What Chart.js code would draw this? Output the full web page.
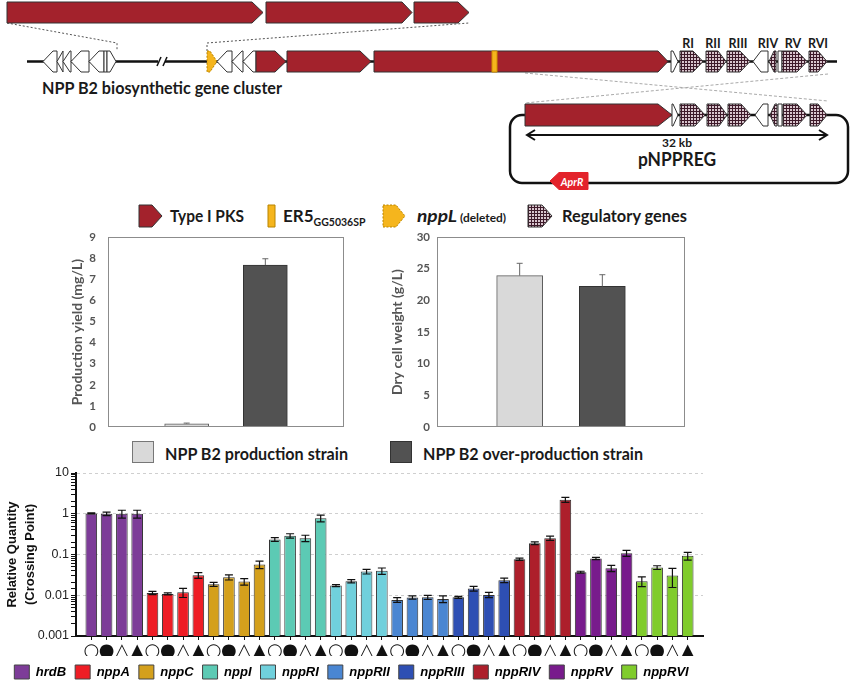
<!DOCTYPE html>
<html><head><meta charset="utf-8">
<script src="https://cdn.jsdelivr.net/npm/chart.js@4.4.0/dist/chart.umd.min.js"></script>
<style>
html,body{margin:0;padding:0;background:#fff;width:850px;height:684px;overflow:hidden;}
#wrap{position:relative;width:850px;height:684px;}
canvas{position:absolute;}
#diag{position:absolute;left:0;top:0;}
</style></head><body><div id="wrap">
<svg id="diag" width="850" height="684" xmlns="http://www.w3.org/2000/svg"></svg>
<canvas id="c1" width="295" height="206" style="left:55px;top:228px"></canvas>
<canvas id="c2" width="315" height="206" style="left:375px;top:228px"></canvas>
<canvas id="c3" width="713" height="226" style="left:0px;top:463px"></canvas>
</div>
<script>
// ---------------- DATA ----------------
const strains = ['NPP B2 production strain', 'NPP B2 over-production strain'];
const yieldValues = [0.16, 7.67];
const yieldErrors = [0.03, 0.3];
const dcwValues = [23.9, 22.2];
const dcwErrors = [1.95, 1.85];

const geneNames = ['hrdB','nppA','nppC','nppI','nppRI','nppRII','nppRIII','nppRIV','nppRV','nppRVI'];
const conditionSymbols = ['○','●','△','▲'];
const hrdB    = [1.02, 1.0, 1.0, 1.0];
const nppA    = [0.0114, 0.0108, 0.0118, 0.031];
const nppC    = [0.0186, 0.0277, 0.0217, 0.057];
const nppI    = [0.234, 0.288, 0.252, 0.78];
const nppRI   = [0.0173, 0.0222, 0.0382, 0.0397];
const nppRII  = [0.0077, 0.0088, 0.0089, 0.0081];
const nppRIII = [0.0089, 0.0146, 0.0102, 0.0234];
const nppRIV  = [0.0768, 0.19, 0.252, 2.21];
const nppRV   = [0.0368, 0.0797, 0.046, 0.108];
const nppRVI  = [0.0222, 0.0479, 0.0305, 0.0927];
const hrdBErr    = [0.03, 0.1, 0.22, 0.22];
const nppAErr    = [0.001, 0.0006, 0.003, 0.005];
const nppCErr    = [0.002, 0.004, 0.004, 0.012];
const nppIErr    = [0.025, 0.035, 0.045, 0.15];
const nppRIErr   = [0.001, 0.002, 0.005, 0.007];
const nppRIIErr  = [0.001, 0.0008, 0.001, 0.0015];
const nppRIIIErr = [0.0005, 0.002, 0.0015, 0.003];
const nppRIVErr  = [0.005, 0.015, 0.03, 0.3];
const nppRVErr   = [0.002, 0.005, 0.008, 0.018];
const nppRVIErr  = [0.006, 0.005, 0.015, 0.02];
const qTickLabels = ['0.001','0.01','0.1','1','10'];
const geneColors = ['#7d3c98','#ee1d25','#d4a01c','#5ccab4','#70d0dc','#4a86d2','#2e4fb3','#ad1f2b','#781b8c','#80cc2c'];

// ---------------- GENE DIAGRAM (SVG) ----------------
const RED='#a3222c', YEL='#f5b51d', HATCH='url(#hatch)', W='#ffffff';
const S=[];
S.push('<defs><pattern id="hatch" width="3" height="3" patternUnits="userSpaceOnUse"><rect width="3" height="3" fill="#d9c6ce"/><path d="M0 0.5H3M0.5 0V3" stroke="#3e1a2a" stroke-width="1"/></pattern></defs>');
function poly(pts, fill, stroke, sw, dash){
  S.push('<polygon points="'+pts.map(p=>p.join(',')).join(' ')+'" fill="'+fill+'" stroke="'+stroke+'" stroke-width="'+sw+'"'+(dash?' stroke-dasharray="'+dash+'"':'')+'/>');
}
function gene(x1,x2,yc,h,dir,head,fill,stroke,dash){
  const t=yc-h/2,b=yc+h/2; head=Math.min(head,x2-x1);
  let pts;
  if(dir==='R') pts=[[x1,t],[x2-head,t],[x2,yc],[x2-head,b],[x1,b]];
  else if(dir==='L') pts=[[x2,t],[x1+head,t],[x1,yc],[x1+head,b],[x2,b]];
  else pts=[[x1,t],[x2,t],[x2,b],[x1,b]];
  poly(pts, fill, stroke||'#333', 1, dash);
}
function line(x1,y1,x2,y2,col,w,dash){
  S.push('<line x1="'+x1+'" y1="'+y1+'" x2="'+x2+'" y2="'+y2+'" stroke="'+col+'" stroke-width="'+w+'"'+(dash?' stroke-dasharray="'+dash+'"':'')+'/>');
}
function pline(pts,col,w,dash){
  S.push('<polyline points="'+pts.map(p=>p.join(',')).join(' ')+'" fill="none" stroke="'+col+'" stroke-width="'+w+'"'+(dash?' stroke-dasharray="'+dash+'"':'')+'/>');
}
function text(x,y,str,size,opts){
  opts=opts||{};
  S.push('<text x="'+x+'" y="'+y+'" font-family="Lato, \'Open Sans\', sans-serif" font-weight="bold" font-size="'+size+'" fill="'+(opts.fill||'#1a1a1a')+'"'+(opts.anchor?' text-anchor="'+opts.anchor+'"':'')+(opts.italic?' font-style="italic"':'')+(opts.len?' textLength="'+opts.len+'" lengthAdjust="spacingAndGlyphs"':'')+'>'+str+'</text>');
}
// dashed zoom lines
pline([[7,23],[117,43],[117,51]],'#555',1,'2,2');
pline([[207,51],[207,43],[469,23]],'#555',1,'2,2');
line(525,73,828,101,'#aaa',1,'3,2');
line(828,74,525,103,'#aaa',1,'3,2');
// expanded PKS at top
gene(7,263,12.5,21,'R',11,RED);
gene(266,412,12.5,21,'R',10,RED);
gene(414,469,12.5,21,'R',11,RED);
// main backbone
line(27,61.5,158,61.5,'#111',2.5);
line(165,61.5,837,61.5,'#111',2.5);
line(157,66,161,57,'#111',1.5);
line(163,66,167,57,'#111',1.5);
const yc=61.5,h=21;
gene(43,57,yc,h,'L',10,W); gene(57,63,yc,h,'L',6,W); gene(63,71,yc,h,'L',7,W);
gene(71,89,yc,h,'L',10,W); gene(89,104,yc,h,'L',10,W); gene(104,107,yc,h,'B',0,W);
gene(107,116,yc,h,'R',6,W);
gene(207,217,yc,h,'R',7,YEL,'#b88400','2,1.5');
gene(217,232,yc,h,'L',10,W); gene(232,243,yc,h,'L',10,W); gene(243,256,yc,h,'L',10,W);
gene(256,286,yc,h,'R',11,RED); gene(287,371,yc,h,'R',11,RED); gene(374,668,yc,h,'R',10,RED);
gene(492,497,yc,h,'B',0,YEL,'#d09000');
gene(671,678,yc,h,'R',5,W);
gene(680,703,yc,h,'R',10,HATCH); gene(706,726,yc,h,'R',8,HATCH); gene(727,750,yc,h,'R',10,HATCH);
gene(753,768,yc,h,'L',8,W); gene(769,776,yc,h,'L',5,HATCH); gene(778,782,yc,h,'B',0,W);
gene(782,807,yc,h,'R',10,HATCH); gene(809,827,yc,h,'R',9,HATCH);
[['RI',688],['RII',713],['RIII',738],['RIV',768],['RV',793],['RVI',818]].forEach(r=>text(r[1],48,r[0],12.5,{anchor:'middle'}));
text(42,94,'NPP B2 biosynthetic gene cluster',17,{len:240});
// plasmid
S.push('<rect x="510" y="115" width="338" height="68" rx="12" fill="none" stroke="#111" stroke-width="2.5"/>');
const py=115,ph=22;
gene(525,672,py,ph,'R',14,RED); gene(672,678,py,ph,'R',5,W);
gene(680,705,py,ph,'R',10,HATCH); gene(707,727,py,ph,'R',8,HATCH); gene(728,751,py,ph,'R',10,HATCH);
gene(755,768,py,ph,'L',8,W); gene(770,777,py,ph,'L',5,HATCH); gene(778,782,py,ph,'B',0,W);
gene(783,807,py,ph,'R',10,HATCH); gene(810,827,py,ph,'R',9,HATCH);
line(528,135,826,135,'#111',2);
pline([[535,130],[527,135],[535,140]],'#111',2);
pline([[819,130],[827,135],[819,140]],'#111',2);
text(677,147,'32 kb',12,{anchor:'middle'});
text(677,166,'pNPPREG',19,{anchor:'middle',len:78});
gene(550,588,181,17,'L',9,'#e3232b','#e3232b');
text(572,185.5,'AprR',10.5,{anchor:'middle',italic:true,fill:'#fff'});
// legend row
gene(139,162,216,22,'R',10,RED);
text(170,222,'Type I PKS',17,{len:74});
gene(268,275,216,22,'B',0,YEL,'#b88400');
S.push('<text x="283" y="222" font-family="Lato, sans-serif" font-weight="bold" font-size="17" fill="#1a1a1a">ER5<tspan font-size="10.5" dy="4">GG5036SP</tspan></text>');
gene(383,405,216,22,'R',9,YEL,'#b88400','2,1.5');
text(417,222,'nppL',17,{italic:true,len:40});
text(460,222,'(deleted)',11,{len:46});
gene(528,552,216,22,'R',10,HATCH);
text(562,222,'Regulatory genes',17,{len:125});
// middle legend
S.push('<rect x="132.5" y="441.5" width="21" height="21" fill="#d9d9d9" stroke="#777"/>');
text(165,460,strains[0],17,{len:183});
S.push('<rect x="390.5" y="441.5" width="21" height="21" fill="#525252" stroke="#333"/>');
text(423,460,strains[1],17,{len:220});
document.getElementById('diag').innerHTML=S.join('');

// ---------------- CHART PLUGINS ----------------
const errorBars = {
  id:'errorBars',
  afterDatasetsDraw(chart, args, opts){
    const ctx=chart.ctx, ys=chart.scales.y;
    chart.data.datasets.forEach((ds,di)=>{
      const meta=chart.getDatasetMeta(di);
      meta.data.forEach((bar,i)=>{
        const raw=ds.data[i]; const e=ds.errors?ds.errors[i]:null;
        if(raw==null||e==null) return;
        const v=(typeof raw==='object')?raw.y:raw;
        const x=bar.x;
        const top=ys.getPixelForValue(v+e);
        const bot=opts.both?ys.getPixelForValue(Math.max(v-e, ys.min*1.0001)):ys.getPixelForValue(v);
        ctx.save();
        ctx.strokeStyle=opts.color||'#000'; ctx.lineWidth=opts.width||1;
        ctx.beginPath();
        ctx.moveTo(x,top); ctx.lineTo(x,bot);
        ctx.moveTo(x-opts.cap,top); ctx.lineTo(x+opts.cap,top);
        if(opts.both){ctx.moveTo(x-opts.cap,bot); ctx.lineTo(x+opts.cap,bot);}
        ctx.stroke(); ctx.restore();
      });
    });
  }
};
const frame = {
  id:'frame',
  afterDraw(chart){
    const a=chart.chartArea, ctx=chart.ctx;
    ctx.save(); ctx.strokeStyle='#8c8c8c'; ctx.lineWidth=1;
    ctx.strokeRect(Math.round(a.left)+0.5, Math.round(a.top)+0.5, Math.round(a.right-a.left)-1, Math.round(a.bottom-a.top)-1);
    ctx.restore();
  }
};

function midChart(id, values, errors, yMax, yStep, title, barW, axisW, titlePad, tickGap, padRight){
  return new Chart(document.getElementById(id), {
    type:'bar',
    data:{labels:['', strains[0], strains[1], ''],
      datasets:[{data:[null, values[0], values[1], null], errors:[null, errors[0], errors[1], null],
        backgroundColor:['#000','#d9d9d9','#525252','#000'], borderColor:['#000','#5e5e5e','#333','#000'],
        borderWidth:1, barThickness:barW}]},
    options:{responsive:false, animation:false, devicePixelRatio:1,
      layout:{padding:{top:9, right:padRight, bottom:0, left:0}},
      scales:{
        x:{display:false, offset:false},
        y:{min:0, max:yMax, ticks:{stepSize:yStep, color:'#555', padding:0, font:{family:'Lato', size:11.5, weight:'bold'}},
           grid:{display:false, drawTicks:true, tickLength:tickGap}, border:{display:false},
           title:{display:true, text:title, color:'#555', font:{family:'Lato', size:14, weight:'bold'}, padding:{top:titlePad, bottom:0}},
           afterFit(s){ s.width=axisW; }}
      },
      plugins:{legend:{display:false}, tooltip:{enabled:false}, errorBars:{color:'#666', width:1, cap:3, both:false}}
    },
    plugins:[errorBars, frame]
  });
}
midChart('c1', yieldValues, yieldErrors, 9, 1, 'Production yield (mg/L)', 44, 53, 14, 12, 6);
midChart('c2', dcwValues, dcwErrors, 30, 5, 'Dry cell weight (g/L)', 46, 62, 14, 7, 5);

// ---------------- qPCR LOG CHART ----------------
const qValues = [].concat(hrdB, nppA, nppC, nppI, nppRI, nppRII, nppRIII, nppRIV, nppRV, nppRVI);
const qErrors = [].concat(hrdBErr, nppAErr, nppCErr, nppIErr, nppRIErr, nppRIIErr, nppRIIIErr, nppRIVErr, nppRVErr, nppRVIErr);
const qPoints = qValues.map((v,i)=>({x:i, y:v}));
const qColors = qValues.map((v,i)=>geneColors[Math.floor(i/4)]);
function majorIndex(v){ const l=Math.log10(v); const e=Math.round(l); return Math.abs(l-e)<1e-6 ? e+3 : -1; }

new Chart(document.getElementById('c3'), {
  type:'bar',
  data:{datasets:[{data:qPoints, errors:qErrors, backgroundColor:qColors, borderColor:'#333', borderWidth:1,
    barPercentage:0.76, categoryPercentage:1}]},
  options:{responsive:false, animation:false, devicePixelRatio:1,
    layout:{padding:{top:10, right:10, left:0, bottom:0}},
    scales:{
      x:{type:'linear', min:-1, max:40, offset:false,
         afterBuildTicks(s){ s.ticks = qValues.map((v,i)=>({value:i})); },
         ticks:{autoSkip:false, maxRotation:0, minRotation:0, padding:1, color:'#111',
           font:{family:'DejaVu Sans', size:18},
           callback:(v)=>conditionSymbols[((v%4)+4)%4]},
         grid:{drawOnChartArea:false, offset:false, tickLength:4, color:'#111', tickColor:'#111'},
         border:{color:'#111', width:2},
         afterFit(s){ s.height=20; }},
      y:{type:'logarithmic', min:0.001, max:10,
         ticks:{autoSkip:false, padding:2, color:'#222', font:{family:'Liberation Sans', size:12.5},
           callback:(v)=>{ const k=majorIndex(v); return k>=0 ? qTickLabels[k] : ''; }},
         grid:{color:(c)=> (c.tick && majorIndex(c.tick.value)>=0) ? '#cfcfcf' : 'rgba(0,0,0,0)',
               tickColor:'#111', tickLength:5, lineWidth:1},
         border:{color:'#111', width:2, dash:[3,3]},
         title:{display:true, text:['Relative Quantity','(Crossing Point)'], color:'#111',
           font:{family:'Liberation Sans', size:13, weight:'bold', lineHeight:1.4}, padding:{top:3, bottom:0}},
         afterFit(s){ s.width=76; }}
    },
    plugins:{
      tooltip:{enabled:false},
      errorBars:{color:'#111', width:1.2, cap:4, both:true},
      legend:{position:'bottom', onClick:null,
        labels:{boxWidth:15, boxHeight:14, padding:9, color:'#222',
          font:{family:'Liberation Sans', size:13, weight:'bold', style:'italic'},
          generateLabels:()=>geneNames.map((g,i)=>({text:g, fillStyle:geneColors[i], strokeStyle:'#444', lineWidth:1, hidden:false, datasetIndex:0}))}}
    }
  },
  plugins:[errorBars]
});
</script>
</body></html>
